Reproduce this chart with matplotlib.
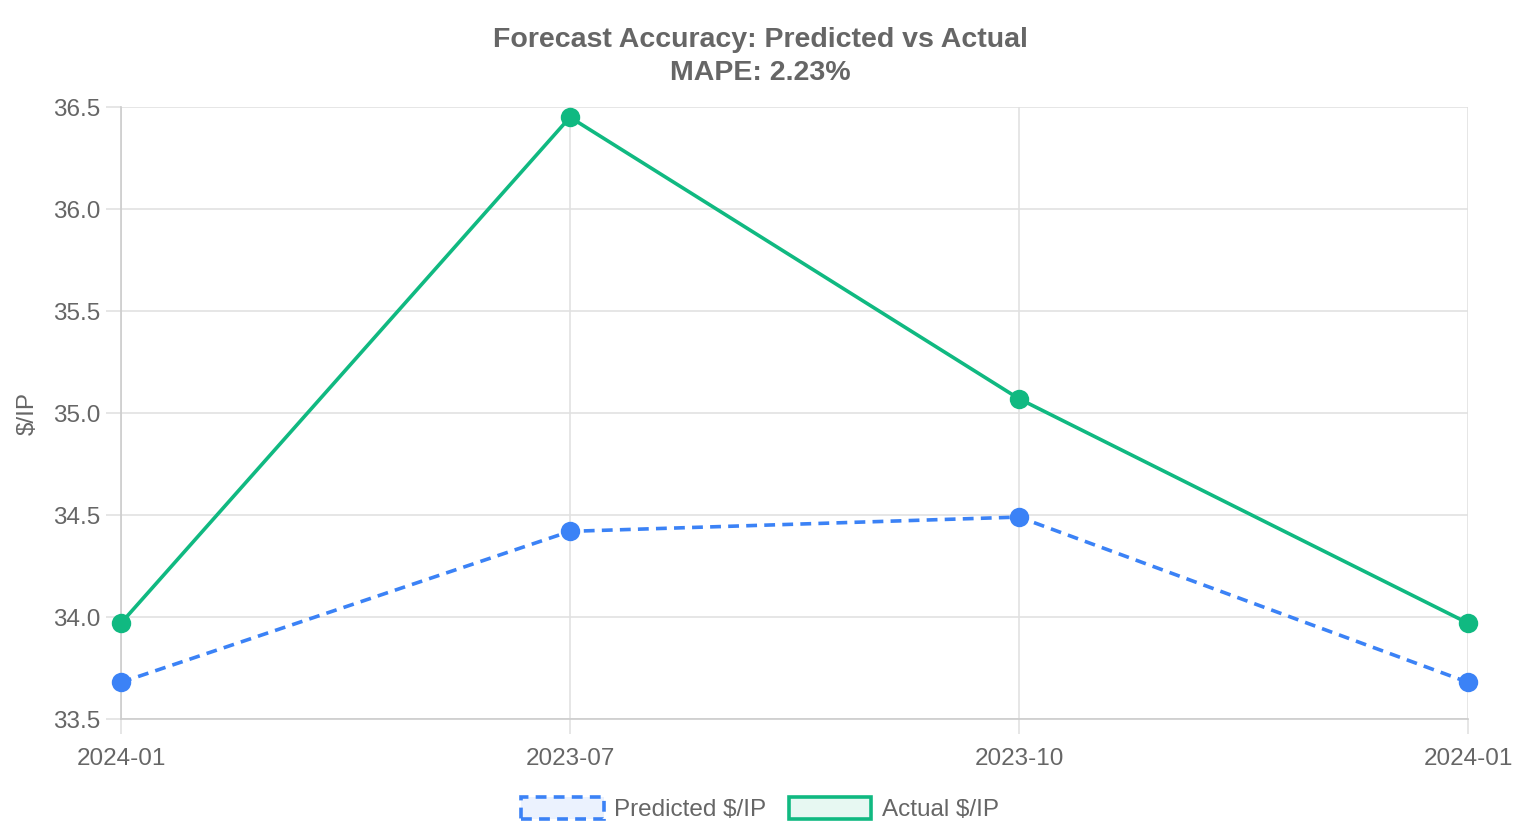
import matplotlib.pyplot as plt
from matplotlib.patches import Patch

plt.rcParams['font.family'] = ['Liberation Sans', 'DejaVu Sans']

# Data
periods = ["2024-01", "2023-07", "2023-10", "2024-01"]
predicted = [33.68, 34.42, 34.49, 33.68]
actual = [33.97, 36.45, 35.07, 33.97]
title = "Forecast Accuracy: Predicted vs Actual\nMAPE: 2.23%"

text_color = "#666666"
grid_color = "#e1e1e1"
blue = "#3b82f6"
green = "#10b981"

fig = plt.figure(figsize=(15.2, 8.4), dpi=100)
ax = fig.add_axes([0.0796, 0.144, 0.8862, 0.7286])

x = list(range(len(periods)))
ax.plot(x, predicted, color=blue, linewidth=2.6, linestyle=(0, (3, 2)),
        marker='o', markersize=14, markeredgewidth=0, zorder=3, clip_on=False)
ax.plot(x, actual, color=green, linewidth=2.6,
        marker='o', markersize=14, markeredgewidth=0, zorder=4, clip_on=False)

ax.set_xlim(0, len(periods) - 1)
ax.set_ylim(33.5, 36.5)
ax.set_yticks([33.5, 34.0, 34.5, 35.0, 35.5, 36.0, 36.5])
ax.set_yticklabels([f"{v:.1f}" for v in ax.get_yticks()])
ax.set_xticks(x)
ax.set_xticklabels(periods)

ax.grid(True, color=grid_color, linewidth=1.2)
ax.set_axisbelow(True)
for side in ['top', 'right']:
    ax.spines[side].set_visible(False)
for side in ['left', 'bottom']:
    ax.spines[side].set_color("#cccccc")
    ax.spines[side].set_linewidth(1.2)
ax.tick_params(axis='both', colors=grid_color, labelcolor=text_color,
               labelsize=17.5, length=11, width=1.2)
ax.tick_params(axis='y', pad=4)
ax.tick_params(axis='x', pad=10)
ax.set_ylabel("$/IP", color=text_color, fontsize=17.5, labelpad=10)

fig.suptitle(title, x=0.5, y=0.968, fontsize=20.5, fontweight='bold',
             color=text_color, linespacing=1.38)

handles = [
    Patch(facecolor="#ebf2fe", edgecolor=blue, linewidth=2.6, linestyle=(0, (3, 2))),
    Patch(facecolor="#e7f8f2", edgecolor=green, linewidth=2.6),
]
leg = fig.legend(handles, ["Predicted $/IP", "Actual $/IP"], loc='center',
                 bbox_to_anchor=(0.5, 0.037), ncol=2, frameon=False,
                 fontsize=17.5, handlelength=3.4, handleheight=1.0,
                 columnspacing=0.9, handletextpad=0.45, labelcolor=text_color)

fig.savefig("out.png", dpi=100)
